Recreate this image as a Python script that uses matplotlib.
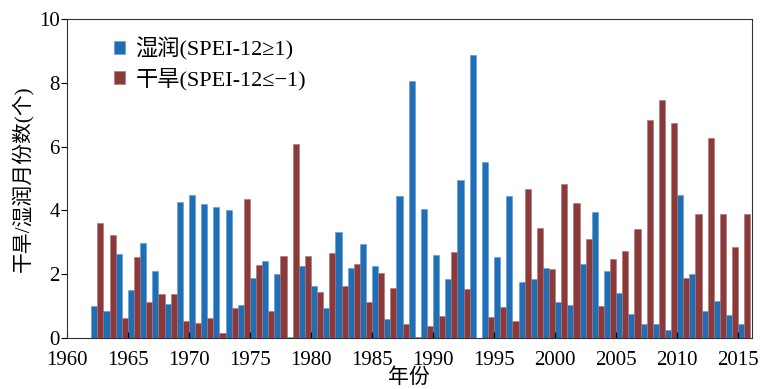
import matplotlib
matplotlib.use("Agg")
import matplotlib.pyplot as plt
import numpy as np

plt.rcParams['font.family'] = ['Liberation Serif', 'Noto Sans CJK SC']
plt.rcParams['axes.unicode_minus'] = True

years = np.arange(1962, 2016)

wet = [1.00, 0.85, 2.65, 1.50, 2.97, 2.10, 1.06, 4.28, 4.50, 4.19,
       4.10, 4.02, 1.05, 1.88, 2.40, 2.02, 0.04, 2.26, 1.64, 0.93,
       3.31, 2.21, 2.95, 2.26, 0.59, 4.46, 8.05, 4.05, 2.60, 1.86,
       4.97, 8.87, 5.53, 2.54, 4.46, 1.76, 1.86, 2.21, 1.12, 1.03,
       2.33, 3.94, 2.11, 1.40, 0.74, 0.43, 0.43, 0.24, 4.50, 2.00,
       0.85, 1.16, 0.72, 0.43]

dry = [3.62, 3.23, 0.64, 2.54, 1.13, 1.39, 1.39, 0.52, 0.46, 0.64,
       0.17, 0.95, 4.36, 2.28, 0.85, 2.58, 6.07, 2.58, 1.45, 2.68,
       1.64, 2.32, 1.13, 2.04, 1.58, 0.43, 0.03, 0.37, 0.69, 2.70,
       1.54, 0.00, 0.66, 0.96, 0.52, 4.67, 3.46, 2.15, 4.84, 4.24,
       3.11, 1.01, 2.47, 2.72, 3.43, 6.83, 7.46, 6.73, 1.88, 3.90,
       6.27, 3.90, 2.85, 3.89]

blue = '#1f6fb6'
red = '#8b3a3c'

fig = plt.figure(figsize=(7.6, 3.89), dpi=100)
ax = fig.add_axes([0.088, 0.131, 0.901, 0.820])

w = 0.5
ax.bar(years, wet, w, align='edge', color=blue, edgecolor='#5b9bd5',
       linewidth=0.4, label='湿润(SPEI-12≥1)')
ax.bar(years + w, dry, w, align='edge', color=red, edgecolor='#b07070',
       linewidth=0.4, label='干旱(SPEI-12≤−1)')

ax.set_xlim(1960, 2016.1)
ax.set_ylim(0, 10)
ax.set_xticks(np.arange(1960, 2016, 5))
ax.set_yticks(np.arange(0, 11, 2))
ax.tick_params(axis='x', direction='in', length=4, labelsize=15, pad=9)
ax.tick_params(axis='y', direction='out', length=4, labelsize=15, pad=1)
for s in ax.spines.values():
    s.set_linewidth(0.8)
    s.set_color('#333333')

ax.set_xlabel('年份', fontsize=15, labelpad=-1)
ax.set_ylabel('干旱/湿润月份数(个)', fontsize=15, labelpad=4)

ax.legend(loc='upper left', bbox_to_anchor=(0.04, 1.005), frameon=False,
          fontsize=16, handlelength=0.5, handleheight=0.5,
          handletextpad=0.45, labelspacing=0.32)

fig.savefig('out.png', dpi=100)
